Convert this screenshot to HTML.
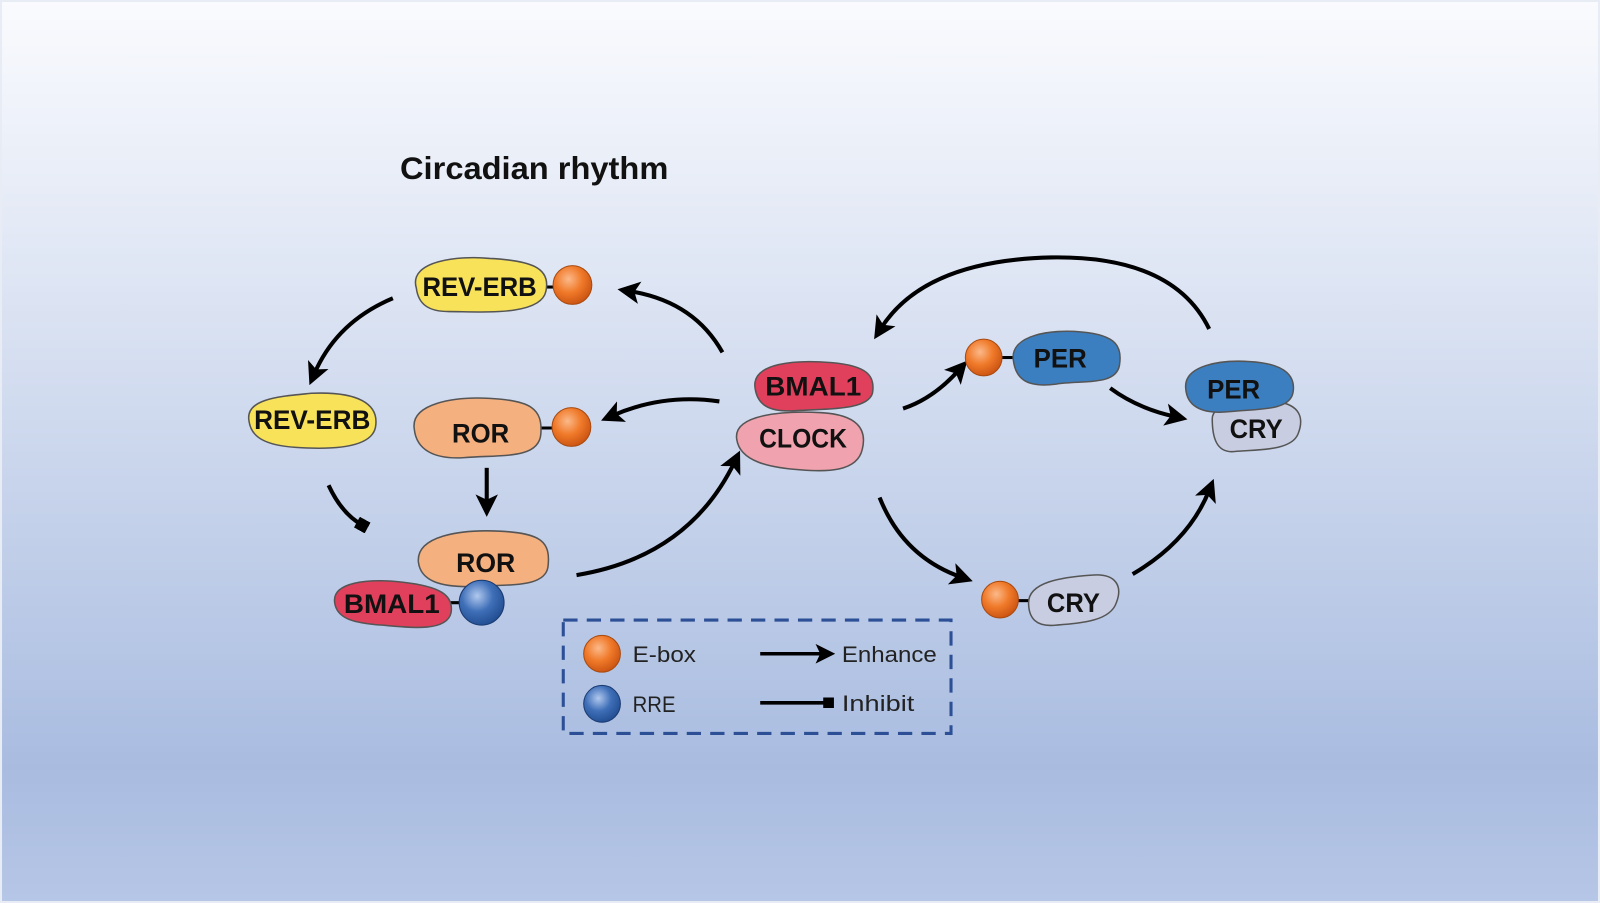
<!DOCTYPE html>
<html><head><meta charset="utf-8"><style>html,body{margin:0;padding:0;width:1600px;height:903px;overflow:hidden}svg{display:block}</style></head><body>
<svg width="1600" height="903" viewBox="0 0 1568 884" preserveAspectRatio="none" xmlns="http://www.w3.org/2000/svg">
<defs>
<linearGradient id="bg" x1="0" y1="0" x2="0" y2="1">
<stop offset="0" stop-color="#fafbfe"/><stop offset="0.3" stop-color="#dfe6f4"/><stop offset="0.85" stop-color="#a9bce0"/><stop offset="1" stop-color="#b6c6e6"/></linearGradient>
<radialGradient id="ob" cx="0.4" cy="0.35" r="0.7"><stop offset="0" stop-color="#fbb98a"/><stop offset="0.5" stop-color="#f07a2a"/><stop offset="1" stop-color="#c85010"/></radialGradient>
<radialGradient id="bb" cx="0.4" cy="0.35" r="0.7"><stop offset="0" stop-color="#b0c8ee"/><stop offset="0.5" stop-color="#3f6fb8"/><stop offset="1" stop-color="#1f4a8e"/></radialGradient>
<marker id="ar" markerWidth="5.5" markerHeight="5.5" refX="2.5" refY="2.75" orient="auto" markerUnits="strokeWidth"><path d="M0,0 L5.5,2.75 L0,5.5 L1.3,2.75 z" fill="#000"/></marker>
<marker id="sq" markerWidth="3" markerHeight="3" refX="1.5" refY="1.5" orient="auto" markerUnits="strokeWidth"><rect x="0" y="0" width="3" height="3" fill="#000"/></marker>
</defs>
<rect width="1568" height="884" fill="url(#bg)"/>
<rect x="1" y="1" width="1566" height="882" fill="none" stroke="#e8ecf4" stroke-width="2"/>
<g font-family="Liberation Sans, sans-serif" font-weight="bold">
<text x="392" y="175" font-size="31" textLength="263" lengthAdjust="spacingAndGlyphs" fill="#111">Circadian rhythm</text>
</g>
<g fill="none" stroke="#000" stroke-width="4" stroke-linecap="butt">
<path d="M385,292 Q330,315 308,366" marker-end="url(#ar)"/>
<path d="M322,475 Q335,503 355,514" marker-end="url(#sq)"/>
<path d="M477,458 L477,494" marker-end="url(#ar)"/>
<path d="M565,563 Q675,545 720,452" marker-end="url(#ar)"/>
<path d="M708,345 Q680,295 617,285" marker-end="url(#ar)"/>
<path d="M705,393 Q650,385 600,407" marker-end="url(#ar)"/>
<path d="M885,400 Q915,390 940,362" marker-end="url(#ar)"/>
<path d="M1088,380 Q1115,400 1152,408" marker-end="url(#ar)"/>
<path d="M1185,322 Q1150,250 1030,252 Q905,255 863,322" marker-end="url(#ar)"/>
<path d="M862,487 Q885,545 942,565" marker-end="url(#ar)"/>
<path d="M1110,562 Q1165,530 1185,480" marker-end="url(#ar)"/>
</g>
<g stroke="#555" stroke-width="1.5">
<line x1="530" y1="281" x2="545" y2="281" stroke="#000" stroke-width="3"/>
<line x1="528" y1="419" x2="545" y2="419" stroke="#000" stroke-width="3"/>
<line x1="438" y1="590" x2="455" y2="590" stroke="#000" stroke-width="3"/>
<line x1="980" y1="350" x2="995" y2="350" stroke="#000" stroke-width="3"/>
<line x1="995" y1="588" x2="1010" y2="588" stroke="#000" stroke-width="3"/>
<path d="M408,282 C400,255 450,250 480,253 C520,255 540,262 535,285 C530,310 470,305 440,305 C420,305 410,298 408,282z" fill="#f8e25a"/>
<path d="M244,412 C240,390 275,388 305,385 C350,383 372,395 368,418 C364,440 320,440 290,438 C260,436 246,428 244,412z" fill="#f8e25a"/>
<path d="M406,420 C402,395 445,388 480,390 C520,392 532,400 530,425 C528,450 490,445 455,448 C425,450 408,440 406,420z" fill="#f5b07f"/>
<path d="M410,550 C408,525 450,518 490,520 C530,522 540,530 537,555 C534,575 500,572 470,574 C430,576 412,568 410,550z" fill="#f5b07f"/>
<path d="M328,590 C325,570 360,566 395,570 C430,574 445,582 442,600 C438,618 405,615 375,612 C345,610 330,605 328,590z" fill="#e0405c"/>
<path d="M740,380 C736,355 780,352 815,355 C850,358 858,368 855,385 C850,402 810,400 780,402 C752,404 742,395 740,380z" fill="#e0405c"/>
<path d="M722,430 C718,405 770,402 805,404 C840,406 850,420 845,440 C840,462 810,462 785,460 C755,458 725,452 722,430z" fill="#f0a2ae"/>
<path d="M993,352 C990,328 1030,322 1060,325 C1095,328 1100,340 1097,358 C1093,378 1060,372 1035,376 C1005,380 995,370 993,352z" fill="#3c7fc0"/>
<path d="M1188,410 C1188,395 1220,390 1250,393 C1275,396 1278,410 1272,425 C1265,442 1230,440 1210,442 C1192,444 1188,428 1188,410z" fill="#c9cde2"/>
<path d="M1162,380 C1160,358 1195,352 1225,354 C1262,356 1270,370 1267,385 C1263,403 1230,400 1205,403 C1175,406 1163,396 1162,380z" fill="#3c7fc0"/>
<path d="M1008,590 C1008,570 1040,565 1070,563 C1095,561 1100,575 1094,590 C1088,608 1060,610 1035,612 C1015,614 1008,605 1008,590z" fill="#c9cde2"/>
</g>
<g stroke="#a84a10" stroke-width="1">
<circle cx="561" cy="279" r="19" fill="url(#ob)"/>
<circle cx="560" cy="418" r="19" fill="url(#ob)"/>
<circle cx="964" cy="350" r="18" fill="url(#ob)"/>
<circle cx="980" cy="587" r="18" fill="url(#ob)"/>
<circle cx="590" cy="640" r="18" fill="url(#ob)"/>
<circle cx="472" cy="590" r="22" fill="url(#bb)" stroke="#1a3a70"/>
<circle cx="590" cy="689" r="18" fill="url(#bb)" stroke="#1a3a70"/>
</g>
<g font-family="Liberation Sans, sans-serif" font-weight="bold" font-size="26" fill="#111" text-anchor="middle">
<text x="470" y="290" textLength="112" lengthAdjust="spacingAndGlyphs">REV-ERB</text>
<text x="306" y="420" textLength="114" lengthAdjust="spacingAndGlyphs">REV-ERB</text>
<text x="471" y="433" textLength="56" lengthAdjust="spacingAndGlyphs">ROR</text>
<text x="476" y="560" textLength="58" lengthAdjust="spacingAndGlyphs">ROR</text>
<text x="384" y="600" textLength="94" lengthAdjust="spacingAndGlyphs">BMAL1</text>
<text x="797" y="387" textLength="94" lengthAdjust="spacingAndGlyphs">BMAL1</text>
<text x="787" y="438" textLength="86" lengthAdjust="spacingAndGlyphs">CLOCK</text>
<text x="1039" y="360" textLength="52" lengthAdjust="spacingAndGlyphs">PER</text>
<text x="1209" y="390" textLength="52" lengthAdjust="spacingAndGlyphs">PER</text>
<text x="1231" y="429" textLength="52" lengthAdjust="spacingAndGlyphs">CRY</text>
<text x="1052" y="599" textLength="52" lengthAdjust="spacingAndGlyphs">CRY</text>
</g>
<rect x="552" y="607" width="380" height="111" fill="none" stroke="#2c4f96" stroke-width="3" stroke-dasharray="14,9"/>
<g font-family="Liberation Sans, sans-serif" font-size="22" fill="#222">
<text x="620" y="648" textLength="62" lengthAdjust="spacingAndGlyphs">E-box</text>
<text x="620" y="697" textLength="42" lengthAdjust="spacingAndGlyphs">RRE</text>
<text x="825" y="648" textLength="93" lengthAdjust="spacingAndGlyphs">Enhance</text>
<text x="825" y="696" textLength="71" lengthAdjust="spacingAndGlyphs">Inhibit</text>
</g>
<g stroke="#000" stroke-width="3.5" fill="none">
<path d="M745,640 L808,640" marker-end="url(#ar)"/>
<path d="M745,688 L812,688" marker-end="url(#sq)"/>
</g>
</svg>
</body></html>
